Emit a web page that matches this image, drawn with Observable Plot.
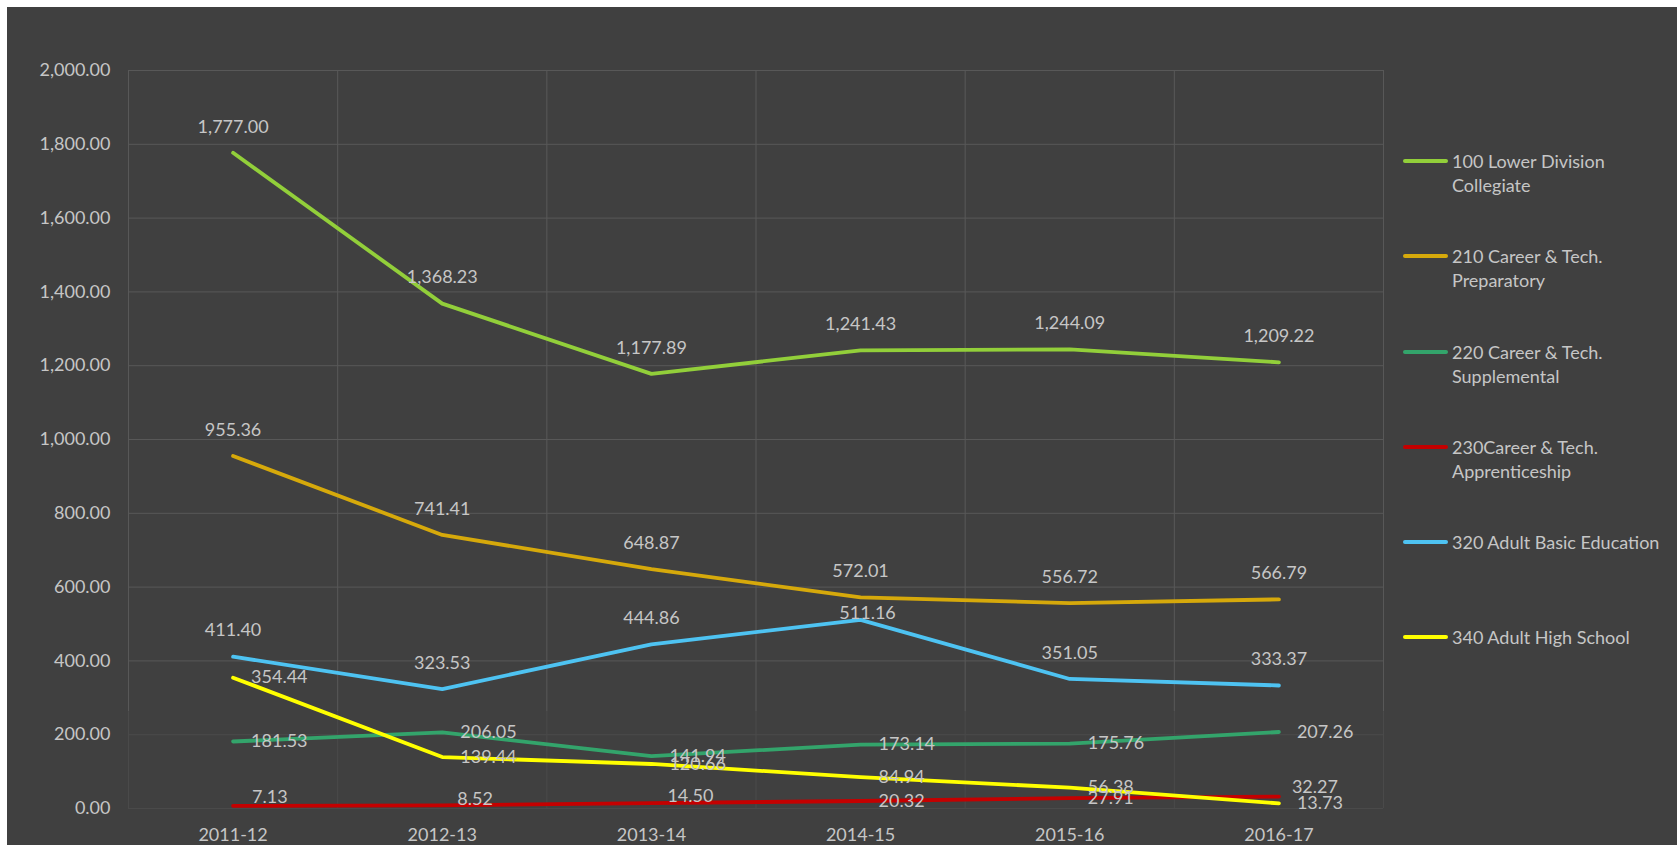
<!DOCTYPE html>
<html><head><meta charset="utf-8">
<script src="https://cdn.jsdelivr.net/npm/d3@7"></script>
<script src="https://cdn.jsdelivr.net/npm/@observablehq/plot@0.6"></script>
<style>
html,body{margin:0;padding:0;background:#fff;width:1677px;height:845px;overflow:hidden;}
#panel{position:absolute;left:7px;top:7px;width:1670px;height:838px;background:#404040;font-family:Lato,"Open Sans",sans-serif;}
#chart{position:absolute;left:0;top:0;}
#legend{position:absolute;left:1396px;top:0;}
.item{position:absolute;left:0;display:flex;align-items:flex-start;}
.swatch{width:45px;height:4px;border-radius:2px;margin-top:10px;margin-right:4px;flex:none;}
.label{font-size:18px;line-height:24px;color:#c6c6c6;width:216px;}
</style></head><body>
<div id="panel"><div id="chart"></div><div id="legend"></div></div>
<script>
// ---- data ----
const years = ["2011-12", "2012-13", "2013-14", "2014-15", "2015-16", "2016-17"];
const seriesNames = [
  "100 Lower Division Collegiate",
  "210 Career & Tech. Preparatory",
  "220 Career & Tech. Supplemental",
  "230Career & Tech. Apprenticeship",
  "320 Adult Basic Education",
  "340 Adult High School"
];
const lowerDivision   = [1777.00, 1368.23, 1177.89, 1241.43, 1244.09, 1209.22];
const careerPrep      = [955.36, 741.41, 648.87, 572.01, 556.72, 566.79];
const careerSupp      = [181.53, 206.05, 141.94, 173.14, 175.76, 207.26];
const apprenticeship  = [7.13, 8.52, 14.50, 20.32, 27.91, 32.27];
const adultBasic      = [411.40, 323.53, 444.86, 511.16, 351.05, 333.37];
const adultHigh       = [354.44, 139.44, 120.66, 84.94, 56.38, 13.73];
const yTicks = [0, 200, 400, 600, 800, 1000, 1200, 1400, 1600, 1800, 2000];

// ---- styles ----
const seriesColors = ["#92cf3a", "#d6a90b", "#33a46b", "#c40000", "#4ec3f2", "#ffff00"];
const textColor = "#c6c6c6";
const gridColor = "#585858";
const gridFaint = "#4a4a4a";

const seriesValues = [lowerDivision, careerPrep, careerSupp, apprenticeship, adultBasic, adultHigh];
const rows = [];
seriesValues.forEach((vals, k) => vals.forEach((v, i) => rows.push({k, i, name: seriesNames[k], value: v})));

const fmt = d3.format(",.2f");

// label placement (style only)
function place(d) {
  const over = {
    "4-3": ["middle", 7, -7],
    "3-0": ["start", 19, -9],
    "3-1": ["start", 15, -6],
    "3-2": ["start", 16, -7],
    "3-5": ["start", 13, -9]
  }[d.k + "-" + d.i];
  if (over) return over;
  if (d.k === 0 || d.k === 1 || d.k === 4) return ["middle", 0, -26];
  return ["start", 18, 0];
}
const groups = d3.groups(rows, d => place(d).join("|"));
const labelMarks = groups.map(([key, g]) => {
  const [anchor, dx, dy] = key.split("|");
  return Plot.text(g, {x: "i", y: "value", text: d => fmt(d.value), textAnchor: anchor, dx: +dx, dy: +dy, fill: textColor, fontSize: 18});
});

const gridX = [-0.5, 0.5, 1.5, 2.5, 3.5, 4.5, 5.5];

const chart = Plot.plot({
  width: 1670, height: 838,
  marginLeft: 121, marginTop: 63, marginRight: 294, marginBottom: 37,
  style: {background: "transparent", color: textColor, fontFamily: "Lato, 'Open Sans', sans-serif", fontSize: "18px"},
  x: {domain: [-0.5, 5.5], label: null},
  y: {domain: [0, 2000], label: null},
  marks: [
    Plot.ruleY(yTicks.filter(v => v >= 400), {stroke: gridColor, strokeWidth: 1}),
    Plot.ruleY(yTicks.filter(v => v < 400), {stroke: gridFaint, strokeWidth: 1}),
    Plot.ruleX(gridX, {y1: 262, y2: 2000, stroke: gridColor, strokeWidth: 1}),
    Plot.ruleX(gridX, {y1: 0, y2: 262, stroke: gridFaint, strokeWidth: 1}),
    Plot.axisX({ticks: d3.range(years.length), tickFormat: i => years[i], tickSize: 0, tickPadding: 20, fontSize: 18, fill: textColor, label: null}),
    Plot.axisY({ticks: yTicks, tickFormat: fmt, tickSize: 0, tickPadding: 18, fontSize: 18, fill: textColor, label: null}),
    ...seriesValues.map((vals, k) => Plot.line(rows.filter(d => d.k === k), {
      x: "i", y: "value", stroke: seriesColors[k], strokeWidth: 3.8, strokeLinejoin: "round", strokeLinecap: "round"
    })),
    ...labelMarks
  ]
});
document.getElementById("chart").appendChild(chart);

// legend
const legend = document.getElementById("legend");
seriesNames.forEach((name, k) => {
  const item = document.createElement("div");
  item.className = "item";
  item.style.top = (142.2 + 95.2 * k) + "px";
  const sw = document.createElement("div");
  sw.className = "swatch";
  sw.style.background = seriesColors[k];
  const lb = document.createElement("div");
  lb.className = "label";
  lb.textContent = name;
  item.appendChild(sw); item.appendChild(lb);
  legend.appendChild(item);
});
</script>
</body></html>
